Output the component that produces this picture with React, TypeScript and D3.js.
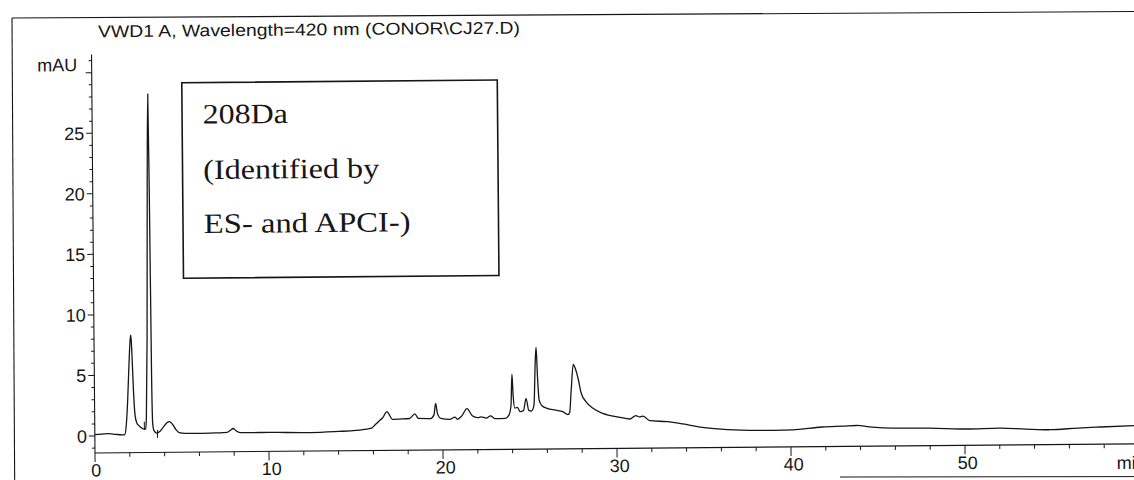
import React from 'react';
import * as d3 from 'd3';

// Chromatogram trace: retention time (min) and absorbance (mAU)
const retentionTime = [
  0.0, 0.4, 0.8, 1.2, 1.6, 1.72, 1.8, 1.9, 2.0, 2.08, 2.12, 2.17, 2.24, 2.32, 2.42, 2.55, 2.7, 2.85,
  2.92, 2.97, 3.05, 3.13, 3.21, 3.25, 3.29, 3.33, 3.4, 3.55, 3.75, 3.95, 4.15, 4.3, 4.45, 4.65, 4.85,
  5.2, 6.0, 7.0, 7.6, 7.8, 7.95, 8.1, 8.35, 9.0, 10.0, 11.0, 12.4, 14.0, 15.0, 15.5, 15.9, 16.1, 16.3,
  16.55, 16.8, 16.95, 17.1, 17.5, 18.1, 18.4, 18.6, 19.3, 19.5, 19.6, 19.7, 19.9, 20.4, 20.7, 20.85,
  21.1, 21.4, 21.7, 22.0, 22.2, 22.5, 22.75, 23.0, 23.6, 23.8, 23.93, 24.0, 24.06, 24.15, 24.3, 24.45,
  24.65, 24.8, 24.95, 25.1, 25.25, 25.35, 25.4, 25.47, 25.55, 25.7, 26.0, 26.5, 26.9, 27.2, 27.3, 27.4,
  27.53, 27.65, 27.8, 27.97, 28.26, 28.64, 29.2, 30.2, 30.75, 31.1, 31.3, 31.5, 31.9, 32.9, 33.8, 34.8,
  36.0, 37.6, 39.0, 40.1, 41.8, 43.0, 43.8, 44.5, 46.3, 48.0, 50.1, 52.0, 53.5, 54.9, 56.5, 57.8, 59.9,
];
const absorbance = [
  0.12, 0.15, 0.18, 0.12, 0.08, 0.1, 0.7, 2.8, 6.0, 8.0, 8.3, 6.8, 3.8, 1.7, 1.05, 0.8, 0.62, 0.52,
  0.55, 1.5, 8, 20, 28.2, 20, 5, 1.0, 0.4, 0.2, 0.35, 0.7, 1.05, 1.13, 0.95, 0.5, 0.22,
  0.15, 0.14, 0.17, 0.2, 0.38, 0.52, 0.35, 0.18, 0.16, 0.18, 0.15, 0.13, 0.2, 0.27, 0.36, 0.45, 0.7, 0.98,
  1.3, 1.8, 1.5, 1.16, 1.18, 1.22, 1.59, 1.22, 1.2, 1.5, 2.45, 1.6, 1.2, 1.12, 1.3, 1.12,
  1.4, 2.0, 1.4, 1.24, 1.3, 1.2, 1.37, 1.15, 1.16, 1.4, 2.2, 4.8, 3.0, 2.0, 2.06, 1.7,
  1.8, 2.8, 1.8, 1.75, 2.2, 6.0, 7.0, 4.5, 2.65, 2.2, 1.96, 1.8, 1.67, 1.42, 1.6, 3.5,
  5.57, 5.2, 4.4, 3.2, 2.45, 1.93, 1.5, 1.16, 1.02, 1.3, 1.18, 1.25, 0.87, 0.77, 0.57, 0.3,
  0.12, 0.0, -0.03, 0.0, 0.22, 0.28, 0.32, 0.2, 0.07, 0.05, -0.05, 0.0, -0.1, -0.17, -0.05, 0.02, 0.12,
];

// integration tick marks (time, top, bottom in mAU)
const markTime = [2.85, 3.6];
const markTop = [1.15, 0.45];
const markBottom = [0.45, -0.2];

const xLabelTicks = [0, 10, 20, 30, 40, 50];
const yLabelTicks = [0, 5, 10, 15, 20, 25];
const xUnit = 'min';
const yUnit = 'mAU';
const titleText = 'VWD1 A, Wavelength=420 nm (CONOR\\CJ27.D)';
const boxLines = ['208Da', '(Identified by', 'ES- and APCI-)'];
const boxLineWidths = [85, 176, 207];

const INK = '#161616';

export default function App() {
  const x = d3.scaleLinear().domain([0, 60]).range([95, 1139]);
  const y = d3.scaleLinear().domain([0, 25]).range([436, 133.25]);

  const xMinor = d3.range(0, 61, 2);
  const yTicks = d3.range(-1, 32, 1);
  const yMajor = d3.range(0, 31, 5);

  const pts: [number, number][] = retentionTime.map((t, i) => [t, absorbance[i]]);
  const line = d3
    .line<[number, number]>()
    .x((d) => x(d[0]))
    .y((d) => y(d[1]))
    .curve(d3.curveMonotoneX);

  const axisY = y(-1.4);
  const axisTop = y(31.5);
  const sans = '"Liberation Sans", Arial, Helvetica, sans-serif';
  const serif = '"Liberation Serif", "Times New Roman", Times, serif';

  return (
    <svg
      width={1134}
      height={480}
      style={{ position: 'absolute', left: 0, top: 0, background: '#fff', overflow: 'hidden' }}
    >
      <rect x={0} y={0} width={1134} height={480} fill="#fff" />
      {/* page frame */}
      <g transform="rotate(-0.33 12 18)" stroke={INK} strokeWidth={1.1} fill="none">
        <line x1={12} y1={18} x2={1145} y2={18} />
        <line x1={12} y1={18} x2={12} y2={500} />
      </g>
      <line x1={840} y1={477} x2={1134} y2={476.6} stroke={INK} strokeWidth={1} />

      <g transform="rotate(-0.5 95 453)">
        {/* title */}
        <text
          x={101.7}
          y={37.3}
          fontFamily={sans}
          fontSize={17}
          fill={INK}
          textLength={422}
          lengthAdjust="spacingAndGlyphs"
        >
          {titleText}
        </text>

        {/* y axis */}
        <line x1={95} y1={axisY} x2={95} y2={axisTop} stroke={INK} strokeWidth={1.1} />
        {yTicks.map((v) => {
          const major = yMajor.includes(v);
          return (
            <line
              key={'yt' + v}
              x1={major ? 89 : 92}
              x2={95}
              y1={y(v)}
              y2={y(v)}
              stroke={INK}
              strokeWidth={1}
            />
          );
        })}
        {yLabelTicks.map((v) => (
          <text key={'yl' + v} x={87} y={y(v) + 6.5} textAnchor="end" fontFamily={sans} fontSize={18} fill={INK}>
            {v}
          </text>
        ))}
        <text x={80.5} y={71} textAnchor="end" fontFamily={sans} fontSize={18} fill={INK}>
          {yUnit}
        </text>

        {/* x axis */}
        <line x1={95} y1={axisY} x2={1145} y2={axisY} stroke={INK} strokeWidth={1.1} />
        {xMinor.map((t) => {
          const major = t % 10 === 0;
          return (
            <line
              key={'xt' + t}
              x1={x(t)}
              x2={x(t)}
              y1={axisY}
              y2={axisY + (major ? 9 : 4)}
              stroke={INK}
              strokeWidth={1}
            />
          );
        })}
        {xLabelTicks.map((t) => (
          <text
            key={'xl' + t}
            x={x(t) + (t === 0 ? 1 : 2.5)}
            y={476.5}
            textAnchor="middle"
            fontFamily={sans}
            fontSize={18}
            fill={INK}
          >
            {t}
          </text>
        ))}
        <text x={1116.6} y={478} fontFamily={sans} fontSize={18} fill={INK}>
          {xUnit}
        </text>

        {/* trace */}
        <path d={line(pts) || ''} fill="none" stroke={INK} strokeWidth={1.3} strokeLinejoin="round" />
        {markTime.map((t, i) => (
          <line
            key={'mk' + i}
            x1={x(t)}
            x2={x(t)}
            y1={y(markTop[i])}
            y2={y(markBottom[i])}
            stroke={INK}
            strokeWidth={1}
          />
        ))}

        {/* annotation box */}
        <rect x={185} y={83.5} width={315.5} height={195.5} fill="#fff" stroke={INK} strokeWidth={1.6} />
        {boxLines.map((s, i) => (
          <text
            key={'bx' + i}
            x={205.7}
            y={[124.5, 180, 234][i]}
            fontFamily={serif}
            fontSize={28}
            fill={INK}
            textLength={boxLineWidths[i]}
            lengthAdjust="spacingAndGlyphs"
          >
            {s}
          </text>
        ))}
      </g>
    </svg>
  );
}
